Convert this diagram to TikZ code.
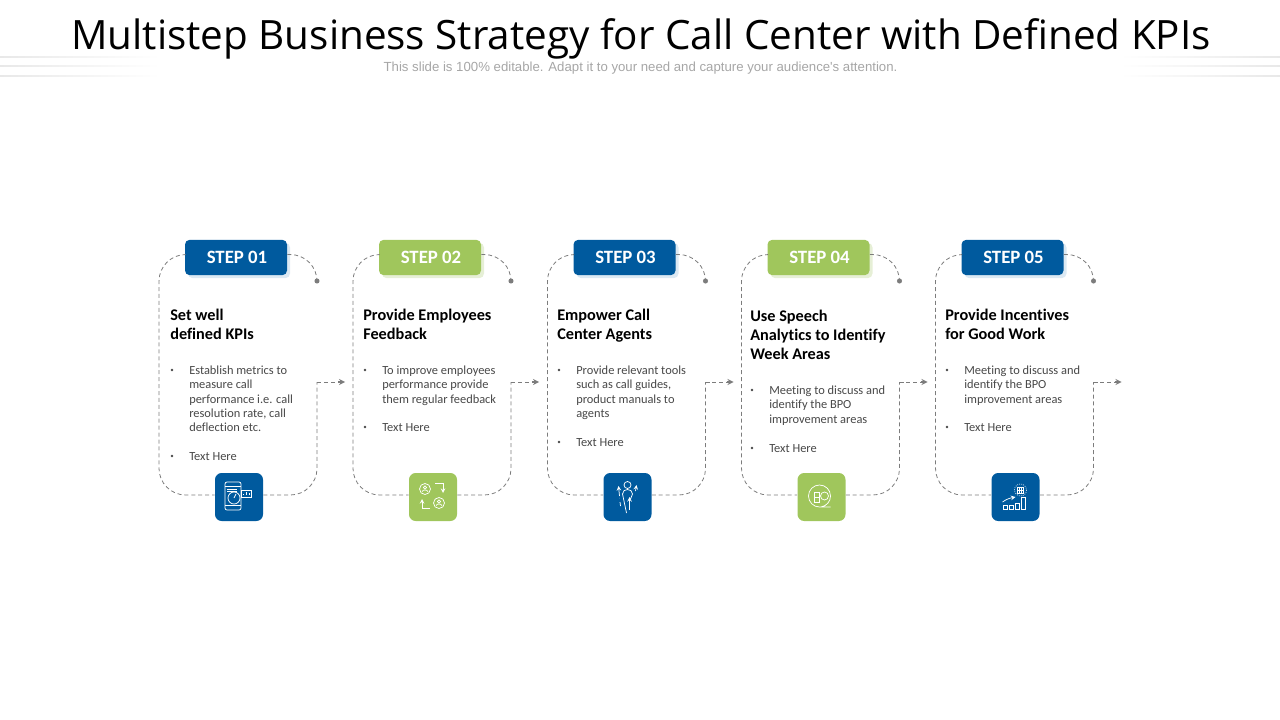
\documentclass[tikz,border=0pt]{standalone}
\usepackage{fontspec}
\setmainfont[Ligatures=NoCommon]{Carlito}
\newfontfamily\titlefont{Open Sans}
\newfontfamily\subfont{Liberation Sans}
\usetikzlibrary{positioning,calc}
\definecolor{stepblue}{HTML}{005A9E}
\definecolor{stepgreen}{HTML}{A0C65C}
\definecolor{blueshade}{HTML}{DCE9F3}
\definecolor{greenshade}{HTML}{E6EFD6}
\definecolor{framegray}{HTML}{7C7C7C}
\tikzset
{
    stepnode/.style = {rectangle, rounded corners=3.5pt, minimum width=76.5pt, minimum height=26.5pt, inner sep=0pt, text=white, font=\fontsize{14.1}{16}\selectfont\bfseries},
    iconnode/.style = {rectangle, rounded corners=5pt, minimum size=36pt, inner sep=0pt},
    framepath/.style = {draw=framegray, line width=0.6pt, dash pattern=on 3pt off 2.2pt},
    dotnode/.style = {circle, fill=framegray, minimum size=3.8pt, inner sep=0pt},
    headtext/.style = {anchor=north west, inner sep=0pt, align=left, text=black, font=\fontsize{12.2}{14.3}\selectfont\bfseries},
    bodytext/.style = {anchor=north west, inner sep=0pt, align=left, text=black!72, font=\fontsize{9.3}{10.8}\selectfont},
    bullet/.style = {circle, fill=black!72, minimum size=2pt, inner sep=0pt},
    icon/.style = {draw=white, line width=0.55pt},
    fadeline/.style = {rectangle, minimum width=120pt, minimum height=1.4pt, inner sep=0pt}
}
\begin{document}
\begin{tikzpicture}[x=0.75pt,y=-0.75pt]
\useasboundingbox (0,0) rectangle (1280,720);
% title
\node[inner sep=0pt, font=\titlefont\fontsize{30.3}{36}\selectfont] (title) at (641,39) {Multistep Business Strategy for Call Center with Defined KPIs};
\node[inner sep=0pt, text=black!35, font=\subfont\fontsize{9.9}{11}\selectfont] (subtitle) at (640.5,68.5) {This slide is 100\% editable. Adapt it to your need and capture your audience's attention.};
% faded lines
\foreach \n/\y in {1/57,2/66,3/76}
{
    \node[fadeline, left color=black!9, right color=white] (fadel\n) at (80,\y) {};
    \node[fadeline, left color=white, right color=black!9] (fader\n) at (1200,\y) {};
}
% steps
\foreach \n/\x/\lab/\col/\shade in {1/236/01/stepblue/blueshade, 2/430/02/stepgreen/greenshade, 3/624.5/03/stepblue/blueshade, 4/818.5/04/stepgreen/greenshade, 5/1012.5/05/stepblue/blueshade}
{
    \node[stepnode, fill=\shade] (shade\n) at (\x+3,260.5) {};
    \node[stepnode, fill=\col] (step\n) at (\x,257.5) {\hspace{1.5pt}STEP \lab};
    \node[iconnode, fill=\col] (icon\n) at (\x+3,497) {};
    \node[dotnode] (dot\n) at (\x+81,281) {};
    \coordinate (elbow\n) at (\x+81,382);
    \coordinate (tip\n) at (\x+109,382);
    \coordinate (side\n) at (\x-77,382);
    \draw[framepath, rounded corners=20pt] ([yshift=2.2pt]step\n.west) -| (side\n) |- ([yshift=1.5pt]icon\n.west);
    \draw[framepath, rounded corners=20pt] ([yshift=2.2pt]step\n.east) -| (dot\n.center);
    \draw[framepath, rounded corners=20pt] ([yshift=1.5pt]icon\n.east) -| (elbow\n);
    \draw[framepath] (elbow\n) -- ($(tip\n)+(-6,0)$);
    \draw[framepath, -stealth, solid, line width=1pt] ($(tip\n)+(-7,0)$) -- (tip\n);
}
% step 1
\node[headtext] (head1) at (170,308.5) {Set well\\defined KPIs};
\node[bullet] (bul1a) at (172,370) {};
\node[bodytext] (body1a) at (189,365.5) {Establish metrics to\\measure call\\performance i.e. call\\resolution rate, call\\deflection etc.};
\node[bullet] (bul1b) at (172,456) {};
\node[bodytext] (body1b) at (189,452) {Text Here};
% step 2
\node[headtext] (head2) at (363,308.5) {Provide Employees\\Feedback};
\node[bullet] (bul2a) at (365,370) {};
\node[bodytext] (body2a) at (382,365.5) {To improve employees\\performance provide\\them regular feedback};
\node[bullet] (bul2b) at (365,427) {};
\node[bodytext] (body2b) at (382,423) {Text Here};
% step 3
\node[headtext] (head3) at (557,308.5) {Empower Call\\Center Agents};
\node[bullet] (bul3a) at (559,370) {};
\node[bodytext] (body3a) at (576,365.5) {Provide relevant tools\\such as call guides,\\product manuals to\\agents};
\node[bullet] (bul3b) at (559,442) {};
\node[bodytext] (body3b) at (576,438) {Text Here};
% step 4
\node[headtext] (head4) at (750,309.5) {Use Speech\\Analytics to Identify\\Week Areas};
\node[bullet] (bul4a) at (752,390) {};
\node[bodytext] (body4a) at (769,385.5) {Meeting to discuss and\\identify the BPO\\improvement areas};
\node[bullet] (bul4b) at (752,448) {};
\node[bodytext] (body4b) at (769,444) {Text Here};
% step 5
\node[headtext] (head5) at (945,308.5) {Provide Incentives\\for Good Work};
\node[bullet] (bul5a) at (947,370) {};
\node[bodytext] (body5a) at (964,365.5) {Meeting to discuss and\\identify the BPO\\improvement areas};
\node[bullet] (bul5b) at (947,427) {};
\node[bodytext] (body5b) at (964,423) {Text Here};
% icon 1
\begin{scope}[shift={(icon1.center)}]
    \draw[icon, rounded corners=1.5pt] (-14,-15) rectangle (2,13);
    \draw[icon] (-14,-11) -- (2,-11) (-14,8) -- (2,8) (-12,-8) -- (-2,-8) (-12,-5.5) -- (-2,-5.5);
    \draw[icon] (-5,1) circle (6);
    \draw[icon] (-5,1) -- (-3,-3);
    \draw[icon, fill=stepblue] (2,-7) rectangle (12,0);
    \draw[icon] (4,-2) -- (4,-3.5) (7,-2) -- (7,-5) (10,-2) -- (10,-4);
\end{scope}
% icon 2
\begin{scope}[shift={(icon2.center)}]
    \draw[icon] (-8,-8) circle (5.5) (-8,-9.5) circle (1.6);
    \draw[icon] (-11,-5.5) .. controls (-10,-7.5) and (-6,-7.5) .. (-5,-5.5);
    \draw[icon] (6,6) circle (5.5) (6,4.5) circle (1.6);
    \draw[icon] (3,8.5) .. controls (4,6.5) and (8,6.5) .. (9,8.5);
    \draw[icon, -stealth] (2,-14) -- (10,-14) -- (10,-4);
    \draw[icon, -stealth] (-3,11) -- (-11,11) -- (-11,2);
\end{scope}
% icon 3
\begin{scope}[shift={(icon3.center)}]
    \draw[icon] (0,-12) circle (3.5);
    \draw[icon] (-1,16) -- (-5,-3) .. controls (-5,-9) and (5,-9) .. (5,-3) -- (3,2);
    \draw[icon, -stealth] (-8,-1) -- (-9,-11);
    \draw[icon, dashed] (-7,9) -- (-8,1);
    \draw[icon, -stealth] (8,-6) -- (9,-12);
    \draw[icon, -stealth] (2,13) -- (2,0);
\end{scope}
% icon 4
\begin{scope}[shift={(icon4.center)}]
    \draw[icon] (9,10) -- (-2,10) arc (90:440:11 and 11);
    \draw[icon] (3,-1) circle (4);
    \draw[icon] (-7,-5) rectangle (-2,5);
    \draw[icon] (-7,0) -- (-2,0);
\end{scope}
% icon 5
\begin{scope}[shift={(icon5.center)}]
    \draw[icon] (-12,8) rectangle (-8,12) (-6,8) rectangle (-2,12) (0,6) rectangle (4,12) (6,0) rectangle (10,12);
    \draw[icon, -stealth] (-13,5) .. controls (-9,2) and (-5,1) .. (0,0);
    \draw[icon, densely dotted] (5,-7) circle (6);
    \draw[icon] (2,-10) rectangle (8,-4) (4,-10) -- (4,-4) (6,-10) -- (6,-4) (2,-7) -- (8,-7);
\end{scope}
\end{tikzpicture}
\end{document}
